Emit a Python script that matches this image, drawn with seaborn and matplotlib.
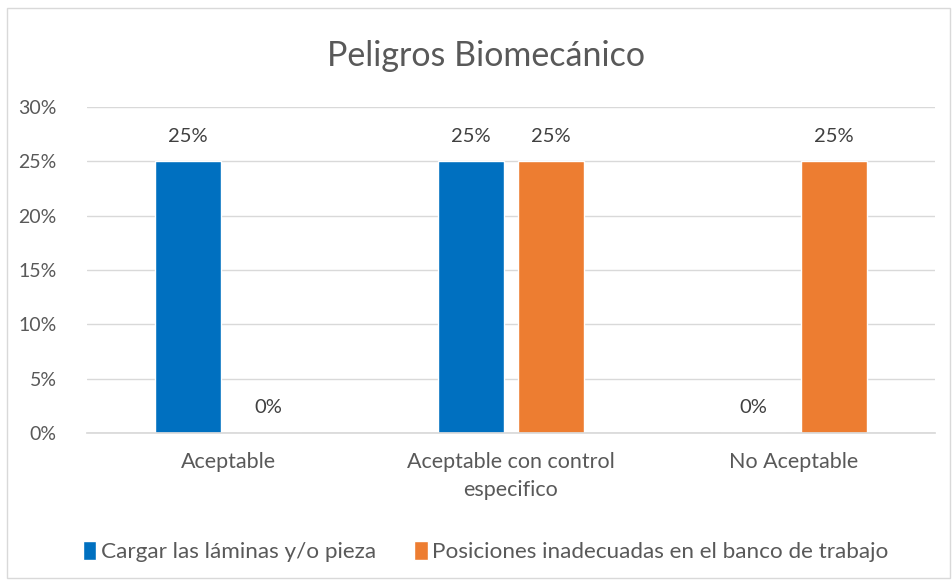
import pandas as pd
import matplotlib.pyplot as plt
import seaborn as sns
from matplotlib.patches import Rectangle

# --- Data ---
categories = ["Aceptable", "Aceptable con control\nespecifico", "No Aceptable"]
series_names = ["Cargar las láminas y/o pieza",
                "Posiciones inadecuadas en el banco de trabajo"]
cargar = [0.25, 0.25, 0.0]
posiciones = [0.0, 0.25, 0.25]
y_ticks = [0, 0.05, 0.10, 0.15, 0.20, 0.25, 0.30]

df = pd.DataFrame({
    "categoria": categories * 2,
    "serie": [series_names[0]] * 3 + [series_names[1]] * 3,
    "valor": cargar + posiciones,
})

sns.set_theme(style="white")
plt.rcParams['font.family'] = ['Lato', 'DejaVu Sans']
text_col = "#595959"

fig = plt.figure(figsize=(9.52, 5.81), dpi=100)
ax = fig.add_axes([87 / 952, 1 - 433 / 581, 848 / 952, 326 / 581])

sns.barplot(data=df, x="categoria", y="valor", hue="serie", ax=ax,
            palette=["#0070C0", "#ED7D31"], width=0.57, gap=0.18,
            saturation=1, legend=True)

ax.set_ylim(0, 0.30)
ax.set_yticks(y_ticks)
ax.set_yticklabels([f"{int(round(t * 100))}%" for t in y_ticks])
ax.set_xlim(-0.5, 2.5)
ax.yaxis.grid(True, color="#D9D9D9", linewidth=1)
ax.set_axisbelow(True)
for s in ["top", "right", "left"]:
    ax.spines[s].set_visible(False)
ax.spines["bottom"].set_color("#D9D9D9")
ax.set_xlabel("")
ax.set_ylabel("")
ax.tick_params(axis="y", colors=text_col, labelsize=14, length=0, pad=22)
ax.tick_params(axis="x", colors=text_col, labelsize=15.5, length=0, pad=14)
for lbl in ax.get_xticklabels():
    lbl.set_linespacing(1.5)

for cont in ax.containers:
    ax.bar_label(cont, labels=[f"{v * 100:.0f}%" for v in cont.datavalues],
                 padding=12, fontsize=14.5, color="#404040")

fig.suptitle("Peligros Biomecánico", fontsize=24.5, color=text_col,
             x=0.51, y=1 - 40 / 581, va="top")

leg = ax.legend(loc="upper center", bbox_to_anchor=(0.47, -0.27), ncol=2,
                frameon=False, fontsize=16.2, handlelength=0.6, handleheight=0.9,
                handletextpad=0.2, columnspacing=1.7)
for t in leg.get_texts():
    t.set_color(text_col)

fig.patches.append(Rectangle((7 / 952, 0.005), 943 / 952, 1 - 8 / 581 - 0.005,
                             transform=fig.transFigure, fill=False,
                             edgecolor="#D9D9D9", linewidth=1))

fig.savefig("out.png", dpi=100)
